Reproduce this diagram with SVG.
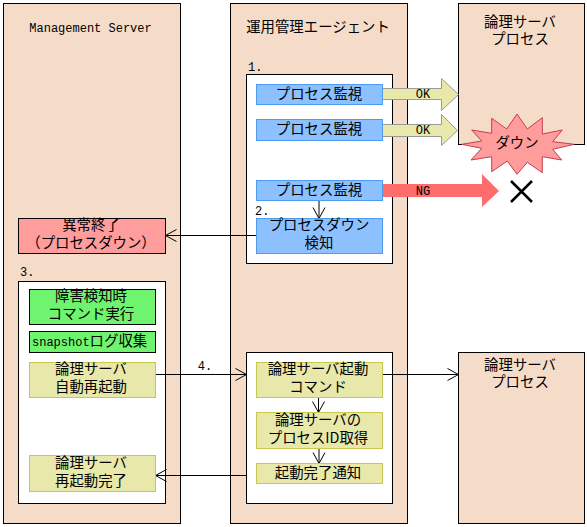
<svg xmlns="http://www.w3.org/2000/svg" width="587" height="527" viewBox="0 0 587 527">
<style>
text{font-family:"Noto Sans CJK JP","DejaVu Sans",sans-serif;font-size:14.4px;fill:#000;text-anchor:middle}
.m{font-family:"Liberation Mono",monospace;font-size:12px}
.s{text-anchor:start}
rect,polygon{stroke-width:1}
.p{fill:#f5dcc8;stroke:#000}
.w{fill:#fff;stroke:#000}
.b{fill:#8cc0ff;stroke:#4d9cf0}
.g{fill:#6ef46e;stroke:#000}
.y{fill:#e8e8aa;stroke:#c8c850}
.r{fill:#ff9c9c;stroke:#000}
.l{fill:none;stroke:#000;stroke-width:1}
</style>
<defs>
<marker id="a" markerUnits="userSpaceOnUse" markerWidth="14" markerHeight="14" refX="12" refY="7" orient="auto"><path d="M1 1L12 7L1 13" fill="none" stroke="#000"/></marker>
</defs>
<g id="panel-server"><rect class="p" x="3.5" y="3.5" width="177" height="520"/><text class="m" x="90.5" y="32">Management Server</text></g>
<g id="panel-agent"><rect class="p" x="230.5" y="3.5" width="177" height="520"/><text x="318" y="32">運用管理エージェント</text></g>
<g id="panel-process-1"><rect class="p" x="458.5" y="3.5" width="126" height="141"/><text x="520" y="27">論理サーバ</text><text x="520" y="44">プロセス</text></g>
<g id="panel-process-2"><rect class="p" x="458.5" y="352.5" width="126" height="171"/><text x="520" y="370">論理サーバ</text><text x="520" y="387">プロセス</text></g>
<g id="box-1"><text class="m s" x="248" y="71">1.</text><rect class="w" x="246.5" y="74.5" width="146" height="189"/></g>
<g id="box-3"><text class="m s" x="20" y="276">3.</text><rect class="w" x="18.5" y="281.5" width="147" height="222"/></g>
<g id="box-4"><rect class="w" x="246.5" y="352.5" width="146" height="151"/></g>
<g id="connectors">
<polygon points="382.5,88.5 441.5,88.5 441.5,78.5 458.5,94.5 441.5,110.5 441.5,99.5 382.5,99.5" fill="#e8e8aa" stroke="#999"/>
<polygon points="382.5,124.5 441.5,124.5 441.5,114.5 457.5,130.5 441.5,145.5 441.5,136.5 382.5,136.5" fill="#e8e8aa" stroke="#999"/>
<polygon points="383,184 482,184 482,174 499,191 482,207 482,197 383,197" fill="#ff6c6c"/>
<path class="l" d="M319 200V218.5" marker-end="url(#a)"/>
<path class="l" d="M256 235.5H165.5" marker-end="url(#a)"/>
<path class="l" d="M155 374.5H246.5" marker-end="url(#a)"/>
<path class="l" d="M382 374.5H458.5" marker-end="url(#a)"/>
<path class="l" d="M318.5 397V412.5" marker-end="url(#a)"/>
<path class="l" d="M319 448V463.500" marker-end="url(#a)"/>
<path class="l" d="M246 475.5H155.5" marker-end="url(#a)"/>
<path d="M511 181L532 202M532 181L511 202" fill="none" stroke="#000" stroke-width="2.5"/>
<text class="m" x="423" y="98">OK</text><text class="m" x="423" y="134">OK</text><text class="m" x="423" y="195">NG</text>
<text class="m" x="205" y="370">4.</text>
</g>
<g id="star"><polygon points="517,114 527.3,129 542.3,117.7 542.300,134 562.300,130 552.700,141.700 574.300,144.300 552.700,149.300 561.700,160 542.300,156.700 542.300,172.700 527.300,162.300 517,174.300 507.300,161 491.700,171.700 491.700,156.700 471,160 481.700,148.300 461.700,144.300 481.700,141 471.700,130 491.700,133.300 491.700,118.300 506.700,129" fill="#ff9c9c" stroke="#c83c50"/><text x="517" y="148">ダウン</text></g>
<g id="n1"><rect class="b" x="256.5" y="84.5" width="126" height="20"/><text x="319" y="99">プロセス監視</text></g>
<g id="n2"><rect class="b" x="256.5" y="119.5" width="126" height="21"/><text x="319" y="134">プロセス監視</text></g>
<g id="n3"><rect class="b" x="256.5" y="180.5" width="126" height="20"/><text x="319" y="195">プロセス監視</text></g>
<g id="n4"><text class="m s" x="255" y="215">2.</text><rect class="b" x="256.5" y="218.5" width="126" height="35"/><text x="319" y="230">プロセスダウン</text><text x="319" y="248">検知</text></g>
<g id="n5"><rect class="r" x="18.5" y="218.5" width="147" height="35"/><text x="91" y="230">異常終了</text><text x="91" y="248">（プロセスダウン）</text></g>
<g id="n6"><rect class="g" x="29.5" y="289.5" width="126" height="35"/><text x="91" y="301">障害検知時</text><text x="91" y="319">コマンド実行</text></g>
<g id="n7"><rect class="g" x="29.5" y="331.5" width="126" height="21"/><text class="s" x="32" y="346"><tspan class="m">snapshot</tspan>ログ収集</text></g>
<g id="n8"><rect class="y" x="29.5" y="362.5" width="126" height="35"/><text x="91" y="374">論理サーバ</text><text x="91" y="392">自動再起動</text></g>
<g id="n9"><rect class="y" x="29.5" y="455.5" width="126" height="36"/><text x="91" y="468">論理サーバ</text><text x="91" y="486">再起動完了</text></g>
<g id="n10"><rect class="y" x="256.5" y="362.5" width="126" height="35"/><text x="318" y="374">論理サーバ起動</text><text x="318" y="392">コマンド</text></g>
<g id="n11"><rect class="y" x="256.5" y="412.5" width="126" height="36"/><text x="318" y="425">論理サーバの</text><text x="318" y="443">プロセスID取得</text></g>
<g id="n12"><rect class="y" x="256.5" y="463.5" width="126" height="20"/><text x="318" y="478">起動完了通知</text></g>
</svg>
